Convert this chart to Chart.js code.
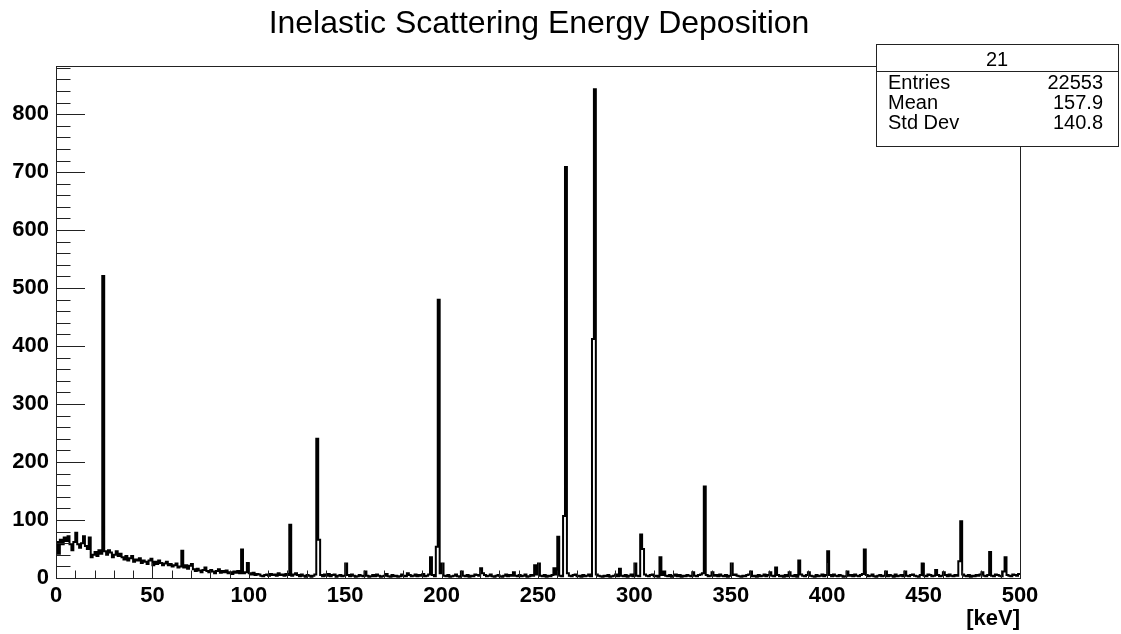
<!DOCTYPE html>
<html>
<head>
<meta charset="utf-8">
<title>Inelastic Scattering Energy Deposition</title>
<script src="https://cdn.jsdelivr.net/npm/chart.js@4.4.1/dist/chart.umd.min.js"></script>
<style>
  html, body { margin: 0; padding: 0; background: #fff; }
  #wrap { width: 1121px; height: 634px; }
</style>
</head>
<body>
<div id="wrap"><canvas id="hist" width="1121" height="634"></canvas></div>
<script>
// histogram "21": 500 bins of 1 keV, 0..500 keV
const chartTitle = "Inelastic Scattering Energy Deposition";
const xAxisTitle = "[keV]";
const histName = "21";
const statLabels = ["Entries", "Mean", "Std Dev"];
const statValues = ["22553", "157.9", "140.8"];
const xTickValues = [0, 50, 100, 150, 200, 250, 300, 350, 400, 450, 500];
const yTickValues = [0, 100, 200, 300, 400, 500, 600, 700, 800];
const yMax = 883;

// bin contents (bin i = [i, i+1) keV)
const counts = [
  62,42,66,58,70,64,72,58,48,62,78,58,52,60,72,55,50,70,36,40,       // 0
  45,38,48,42,521,46,40,48,44,36,40,46,38,42,36,32,38,30,34,38,      // 20
  28,32,30,34,26,30,28,24,30,33,22,28,24,30,26,22,25,28,22,24,       // 40
  20,22,25,18,20,47,18,22,16,21,24,15,12,16,13,10,14,18,12,10,       // 60
  14,11,8,12,15,9,12,10,13,8,10,7,11,9,12,8,49,8,10,26,              // 80
  8,6,9,5,7,6,4,3,5,6,4,7,5,6,4,8,5,6,4,7,                           // 100
  5,92,4,6,8,5,3,6,4,2,5,4,2,4,6,240,66,5,3,6,                       // 120
  4,7,3,5,6,2,4,5,3,4,25,5,3,6,4,2,3,5,4,3,                          // 140
  11,4,2,3,5,3,6,4,2,3,4,7,3,2,5,3,4,2,3,6,                          // 160
  4,3,8,5,3,4,6,3,5,4,7,3,4,6,36,5,3,54,480,8,                       // 180
  25,4,3,5,2,3,4,6,3,2,11,4,3,5,2,4,3,6,5,4,                         // 200
  17,8,5,3,4,6,3,2,4,5,3,2,4,6,3,5,4,10,4,3,                         // 220
  5,3,4,6,2,3,5,4,22,6,25,4,3,5,2,4,3,5,17,6,                        // 240
  71,4,3,107,709,8,4,3,5,6,3,4,2,5,3,4,6,3,412,843,                  // 260
  6,4,3,2,4,3,5,2,3,4,6,3,16,4,3,5,2,4,6,3,                          // 280
  25,4,3,75,50,6,4,3,5,6,3,4,2,36,5,11,4,3,5,2,                      // 300
  4,6,3,5,2,4,3,5,4,3,10,4,3,5,6,8,158,5,3,4,                        // 320
  10,4,5,3,6,4,3,5,2,4,25,5,6,4,3,2,4,3,5,6,                         // 340
  11,3,4,2,5,3,4,6,3,5,10,4,3,18,5,3,4,2,5,3,                        // 360
  10,4,3,5,2,30,6,4,3,5,10,4,3,2,5,3,4,6,3,5,                        // 380
  46,5,3,6,4,3,5,4,2,3,11,4,5,3,6,4,3,5,7,49,                        // 400
  5,3,4,6,3,2,4,5,3,4,11,3,5,4,2,6,3,4,5,3,                          // 420
  11,4,3,5,6,4,3,2,5,25,4,3,6,5,3,4,14,5,3,4,                        // 440
  10,5,3,6,4,3,5,4,29,98,6,4,3,5,2,4,3,5,4,6,                        // 460
  10,4,3,5,45,4,3,6,5,4,3,11,36,5,4,3,6,5,4,7                        // 480
];

// step outline points at bin low edges, closing point at 500
const histPoints = counts.map((c, i) => ({ x: i, y: c }));
histPoints.push({ x: counts.length, y: counts[counts.length - 1] });

// ROOT style frame with ticks pointing inwards
const rootFrame = {
  id: "rootFrame",
  afterDatasetsDraw(chart) {
    const { ctx, chartArea: a, scales: { x, y } } = chart;
    ctx.save();
    ctx.strokeStyle = "#222";
    ctx.lineWidth = 1;
    ctx.beginPath();
    for (let v = 0; v <= yMax; v += 20) {
      const py = Math.round(y.getPixelForValue(v)) + 0.5;
      const len = v % 100 === 0 ? 29 : 14.5;
      ctx.moveTo(a.left, py);
      ctx.lineTo(a.left + len, py);
    }
    for (let v = 0; v <= 500; v += 10) {
      const px = Math.round(x.getPixelForValue(v)) + 0.5;
      const len = v % 50 === 0 ? 15 : 7.5;
      ctx.moveTo(px, a.bottom);
      ctx.lineTo(px, a.bottom - len);
    }
    ctx.stroke();
    ctx.strokeRect(Math.round(a.left) + 0.5, Math.round(a.top) + 0.5,
      Math.round(a.right - a.left), Math.round(a.bottom - a.top));
    ctx.restore();
  }
};

// pad title (ROOT puts it a bit off the frame centre) and the stats box
const padText = {
  id: "padText",
  afterDraw(chart) {
    const ctx = chart.ctx;
    const bx = 876, by = 44, bw = 242, bh = 102, headH = 27;
    const rowBase = [89, 108.5, 129];
    ctx.save();
    ctx.fillStyle = "#000";
    ctx.font = "32px 'Liberation Sans', Arial, sans-serif";
    ctx.textAlign = "center";
    ctx.textBaseline = "alphabetic";
    ctx.fillText(chartTitle, 539, 33);

    ctx.fillStyle = "#fff";
    ctx.fillRect(bx, by, bw, bh);
    ctx.strokeStyle = "#222";
    ctx.lineWidth = 1;
    ctx.strokeRect(bx + 0.5, by + 0.5, bw, bh);
    ctx.beginPath();
    ctx.moveTo(bx, by + headH + 0.5);
    ctx.lineTo(bx + bw, by + headH + 0.5);
    ctx.stroke();
    ctx.fillStyle = "#000";
    ctx.font = "20px 'Liberation Sans', Arial, sans-serif";
    ctx.textAlign = "center";
    ctx.fillText(histName, bx + bw / 2, 66);
    statLabels.forEach((lab, i) => {
      ctx.textAlign = "left";
      ctx.fillText(lab, bx + 12, rowBase[i]);
      ctx.textAlign = "right";
      ctx.fillText(statValues[i], bx + bw - 15, rowBase[i]);
    });
    ctx.restore();
  }
};

const tickFont = { family: "'Liberation Sans', Arial, sans-serif", size: 22, weight: "bold" };

new Chart(document.getElementById("hist"), {
  type: "line",
  data: {
    datasets: [{
      label: histName,
      data: histPoints,
      stepped: "before",
      borderColor: "#000",
      borderWidth: 2,
      pointRadius: 0,
      fill: false
    }]
  },
  options: {
    responsive: false,
    animation: false,
    events: [],
    layout: { padding: { left: 0, right: 101, top: 66, bottom: 0 } },
    plugins: {
      legend: { display: false },
      tooltip: { enabled: false },
      title: { display: false }
    },
    scales: {
      x: {
        type: "linear",
        min: 0,
        max: 500,
        grid: { display: false, drawTicks: false },
        border: { display: false },
        afterBuildTicks: (s) => { s.ticks = xTickValues.map(v => ({ value: v })); },
        afterFit: (s) => { s.height = 56; },
        ticks: { color: "#000", font: tickFont, padding: 5, autoSkip: false, maxRotation: 0 },
        title: {
          display: true,
          text: xAxisTitle,
          align: "end",
          color: "#000",
          font: tickFont,
          padding: { top: 0, bottom: 2 }
        }
      },
      y: {
        min: 0,
        max: yMax,
        grid: { display: false, drawTicks: false },
        border: { display: false },
        afterBuildTicks: (s) => { s.ticks = yTickValues.map(v => ({ value: v })); },
        afterFit: (s) => { s.width = 56; },
        ticks: { color: "#000", font: tickFont, padding: 7 }
      }
    }
  },
  plugins: [rootFrame, padText]
});
</script>
</body>
</html>
